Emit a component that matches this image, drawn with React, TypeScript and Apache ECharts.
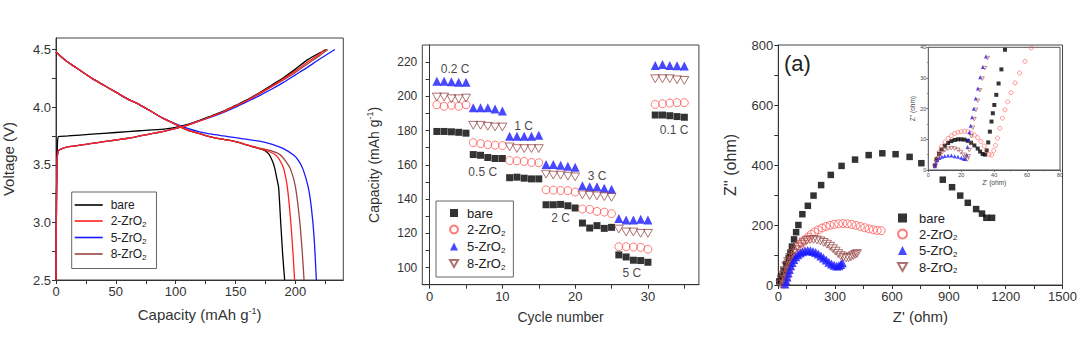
import React, { useEffect, useRef } from 'react';
import * as echarts from 'echarts';

const FONT = 'Arial, "Liberation Sans", sans-serif';
const LABELS = ['bare', '2-ZrO2', '5-ZrO2', '8-ZrO2'];
const COLORS = ['#000000', '#ff2020', '#1a1aff', '#9a4545'];
const PALE = ['#000000', '#ff5a5a', '#1a1aff', '#9a4d4d'];

// ---------- Panel A: charge / discharge curves (capacity mAh/g, voltage V)
const chargeBare = [[0, 2.5], [0.4, 3.2], [1, 3.6], [2, 3.745], [10, 3.75], [30, 3.765], [50, 3.78], [70, 3.795], [90, 3.81], [100, 3.825], [110, 3.85], [120, 3.885], [130, 3.925], [140, 3.965], [150, 4.015], [160, 4.065], [170, 4.125], [180, 4.19], [190, 4.255], [200, 4.33], [210, 4.41], [220, 4.47], [226, 4.5]];
const charge2 = [[0, 2.5], [0.5, 3.3], [1, 3.55], [2, 3.62], [5, 3.64], [10, 3.655], [20, 3.67], [30, 3.685], [40, 3.7], [50, 3.715], [60, 3.73], [70, 3.75], [80, 3.77], [90, 3.79], [100, 3.815], [110, 3.845], [120, 3.88], [130, 3.92], [140, 3.96], [150, 4.01], [160, 4.06], [170, 4.12], [180, 4.18], [190, 4.245], [200, 4.315], [210, 4.39], [220, 4.46], [224.5, 4.5]];
const charge5 = [[0, 2.5], [0.5, 3.3], [1, 3.55], [2, 3.62], [5, 3.64], [10, 3.655], [20, 3.67], [30, 3.685], [40, 3.7], [50, 3.715], [60, 3.73], [70, 3.75], [80, 3.77], [90, 3.79], [100, 3.815], [110, 3.845], [120, 3.88], [130, 3.915], [140, 3.955], [150, 4.0], [160, 4.05], [170, 4.1], [180, 4.155], [190, 4.215], [200, 4.28], [210, 4.345], [220, 4.415], [233, 4.5]];
const charge8 = [[0, 2.5], [0.5, 3.3], [1, 3.55], [2, 3.62], [5, 3.64], [10, 3.655], [20, 3.67], [30, 3.685], [40, 3.7], [50, 3.715], [60, 3.73], [70, 3.75], [80, 3.77], [90, 3.79], [100, 3.815], [110, 3.845], [120, 3.88], [130, 3.92], [140, 3.96], [150, 4.01], [160, 4.06], [170, 4.115], [180, 4.175], [190, 4.235], [200, 4.3], [210, 4.375], [220, 4.445], [227, 4.5]];
const dischargeBare = [[0, 4.48], [5, 4.43], [10, 4.39], [20, 4.32], [30, 4.25], [40, 4.19], [50, 4.13], [60, 4.07], [70, 4.02], [80, 3.96], [90, 3.9], [100, 3.85], [110, 3.8], [120, 3.77], [130, 3.74], [140, 3.72], [150, 3.7], [160, 3.67], [170, 3.64], [175, 3.62], [178, 3.59], [180.5, 3.54], [182.5, 3.48], [184.5, 3.38], [186, 3.3], [187.6, 3.02], [189.3, 2.73], [191, 2.5]];
const discharge2 = [[0, 4.48], [5, 4.43], [10, 4.39], [20, 4.32], [30, 4.25], [40, 4.19], [50, 4.13], [60, 4.07], [70, 4.02], [80, 3.96], [90, 3.9], [100, 3.85], [110, 3.8], [120, 3.77], [130, 3.74], [140, 3.72], [150, 3.7], [160, 3.67], [170, 3.64], [178, 3.615], [184, 3.58], [188, 3.52], [190.4, 3.46], [193.2, 3.31], [196, 3.02], [198, 2.73], [199.3, 2.5]];
const discharge5 = [[0, 4.48], [5, 4.43], [10, 4.39], [20, 4.32], [30, 4.25], [40, 4.19], [50, 4.13], [60, 4.07], [70, 4.02], [80, 3.96], [90, 3.9], [100, 3.855], [110, 3.815], [120, 3.785], [130, 3.765], [140, 3.75], [150, 3.735], [160, 3.72], [170, 3.705], [180, 3.68], [190, 3.64], [199, 3.58], [203, 3.53], [206.4, 3.46], [210.6, 3.31], [213.3, 3.13], [215.6, 2.87], [217.5, 2.5]];
const discharge8 = [[0, 4.48], [5, 4.43], [10, 4.39], [20, 4.32], [30, 4.25], [40, 4.19], [50, 4.13], [60, 4.07], [70, 4.02], [80, 3.96], [90, 3.9], [100, 3.85], [110, 3.8], [120, 3.77], [130, 3.74], [140, 3.72], [150, 3.7], [160, 3.67], [170, 3.645], [180, 3.62], [186.8, 3.59], [192, 3.53], [196, 3.46], [200, 3.31], [203.5, 3.02], [205.8, 2.73], [207.2, 2.5]];

// ---------- Panel B: rate capability
const cycles = [1, 2, 3, 4, 5, 6, 7, 8, 9, 10, 11, 12, 13, 14, 15, 16, 17, 18, 19, 20, 21, 22, 23, 24, 25, 26, 27, 28, 29, 30, 31, 32, 33, 34, 35];
const rateBare = [179.5, 179.5, 179.3, 179, 178.5, 166, 165.6, 164.3, 163.7, 163.7, 152.5, 152.8, 152.2, 151.8, 151.8, 136.7, 136.7, 136.9, 136.1, 134.8, 126, 123.1, 124.5, 122.9, 123.5, 107.4, 106.2, 104.3, 104.1, 103.1, 189.1, 189.1, 188.7, 188.2, 187.8];
const rate2 = [195.1, 194.2, 194.8, 194.2, 195.1, 173, 172.4, 171.8, 171.5, 171.3, 162.5, 162.3, 162, 161.4, 161.2, 145.4, 145.2, 145, 144.9, 144.1, 134.2, 134, 132.8, 132.4, 131.5, 112.2, 112.2, 112, 111.8, 110.7, 195.3, 195.7, 196.1, 196.3, 196.3];
const rate5 = [208.9, 208.9, 208.5, 208.2, 208.3, 193.4, 193.4, 193.4, 192.6, 191.5, 176.7, 176.7, 176.7, 176.7, 177.3, 160.2, 160.2, 159.8, 159.2, 158.6, 147.8, 147.2, 147.2, 146.4, 145.8, 128.7, 127.8, 127.8, 128.2, 127.8, 218, 218.6, 218, 217.9, 217.7];
const rate8 = [199.6, 199.6, 198.6, 198.6, 199, 183.1, 183.1, 182.5, 182.1, 182.1, 170.5, 169.5, 169.5, 169.5, 169.5, 154.6, 154, 154, 153.4, 153, 142.5, 142.1, 141.9, 141.4, 141, 122.5, 120.8, 120.8, 120, 120, 210.3, 210.3, 210.3, 209.7, 209.3];
const rateNotes = [
  { text: '0.2 C', cycle: 3.5, cap: 216.2 },
  { text: '0.5 C', cycle: 7.3, cap: 156 },
  { text: '1 C', cycle: 12.9, cap: 182.7 },
  { text: '2 C', cycle: 18, cap: 129 },
  { text: '3 C', cycle: 23, cap: 153.4 },
  { text: '5 C', cycle: 27.8, cap: 97 },
  { text: '0.1 C', cycle: 33.6, cap: 180.2 },
];

// ---------- Panel C: Nyquist plots (Z', Z'' in ohm)
const eisBare = [[5, 12], [15, 28], [28, 48], [42, 70], [55, 90], [64, 108], [72, 128], [83, 152], [94, 176], [106, 200], [127, 236], [156, 264], [186, 298], [226, 333], [277, 367], [334, 397], [405, 418], [477, 433], [549, 439], [619, 436], [693, 427], [755, 406], [868, 351], [917, 326], [960, 298], [1000, 274], [1044, 253], [1075, 238], [1098, 224], [1128, 224]];
const eis2 = [[30, 3], [36, 12], [42, 24], [48, 38], [55, 52], [62, 66], [70, 80], [79, 94], [89, 107], [100, 119], [112, 130], [126, 141], [141, 151], [157, 160], [174, 169], [192, 177], [211, 184], [231, 190], [252, 195], [273, 199], [295, 202], [318, 204], [341, 205], [364, 204], [387, 202], [410, 199], [433, 195], [456, 191], [479, 187], [501, 184], [522, 182], [543, 181]];
const eis5 = [[35, 3], [40, 14], [46, 27], [52, 40], [58, 52], [65, 64], [73, 75], [82, 85], [92, 94], [103, 101], [115, 107], [128, 111], [141, 114], [155, 115], [169, 114], [183, 112], [197, 108], [211, 103], [225, 97], [239, 90], [253, 83], [267, 76], [281, 70], [295, 66], [308, 63], [320, 64], [330, 68], [338, 74]];
const eis8 = [[12, 3], [18, 18], [25, 33], [33, 48], [42, 63], [52, 78], [63, 92], [75, 105], [88, 117], [102, 127], [117, 136], [133, 143], [150, 148], [168, 151], [186, 152], [204, 150], [222, 147], [240, 142], [257, 136], [273, 129], [288, 121], [302, 113], [316, 105], [330, 98], [344, 93], [358, 90], [371, 91], [383, 94], [395, 98], [406, 102], [415, 105]];
// inset (zoom of high-frequency region)
const insetBare = [[4, 1.5], [5, 3.5], [6.5, 5.3], [8, 6.7], [10, 7.9], [12, 8.8], [14, 9.4], [16, 9.8], [18, 10], [20, 10], [22, 9.9], [24, 9.5], [26, 8.9], [28, 8], [30, 7], [31.5, 6], [33, 5.2], [34.5, 5], [35.5, 6.4], [36.4, 9], [37.4, 12.5], [38.4, 15.8], [39.2, 18.5], [40.1, 21.2], [41.3, 24.5], [42.7, 28.2], [44.4, 32.8], [46.6, 39.2]];
const inset2 = [[4, 1.5], [5, 3.5], [6.5, 5.8], [8, 7.6], [10, 9.1], [12, 10.3], [14, 11.2], [16, 11.9], [18, 12.3], [20, 12.5], [22, 12.6], [24, 12.5], [26, 12.1], [28, 11.4], [30, 10.5], [32, 9.3], [34, 7.8], [35.5, 6.3], [37, 5], [38.5, 4.9], [39.7, 6.3], [40.8, 8], [42, 10.4], [43.4, 13.6], [45, 16.9], [46.6, 19.6], [48.2, 22.2], [50.2, 25.2], [52.7, 28.4], [55.5, 31.6], [58.7, 35.4], [62.5, 39.8]];
const inset5 = [[4, 1.2], [4.6, 2.3], [5.5, 3.2], [6.8, 3.9], [8.3, 4.3], [10, 4.6], [12, 4.7], [14, 4.7], [16, 4.5], [18, 4.3], [20, 4], [21.5, 3.7], [22.5, 3.6], [23.3, 5], [23.8, 7.5], [24.3, 9.8], [25, 12.3], [25.7, 14.4], [26.6, 17.2], [27.6, 20], [28.8, 23.3], [30.1, 26.6], [31.5, 30.2], [33.1, 33.6], [35, 37]];
const inset8 = [[4, 1.2], [4.8, 2.5], [5.8, 3.8], [7, 4.9], [8.5, 5.8], [10, 6.4], [12, 6.9], [14, 7.1], [16, 7], [18, 6.6], [19.8, 5.9], [21.3, 5], [22.6, 4.1], [23.7, 3.4], [24.4, 4.5], [24.9, 6.5], [25.5, 8.6], [26.2, 11], [27, 13.8], [27.9, 16.6], [28.9, 19.6], [30, 22.6], [31.3, 26], [32.8, 29.8], [34.3, 33.2], [36, 36.5]];

// tick values
const aXLabels = [0, 50, 100, 150, 200];
const aXTicks = [0, 25, 50, 75, 100, 125, 150, 175, 200, 225];
const aYLabels = [2.5, 3.0, 3.5, 4.0, 4.5];
const aYTicks = [2.5, 2.75, 3.0, 3.25, 3.5, 3.75, 4.0, 4.25, 4.5];
const bXLabels = [0, 10, 20, 30];
const bXTicks = [0, 5, 10, 15, 20, 25, 30, 35];
const bYLabels = [100, 120, 140, 160, 180, 200, 220];
const bYTicks = [100, 110, 120, 130, 140, 150, 160, 170, 180, 190, 200, 210, 220];
const cXLabels = [0, 300, 600, 900, 1200, 1500];
const cXTicks = [0, 150, 300, 450, 600, 750, 900, 1050, 1200, 1350, 1500];
const cYLabels = [0, 200, 400, 600, 800];
const cYTicks = [0, 100, 200, 300, 400, 500, 600, 700, 800];

const DOWN_TRI = 'path://M0,0L10,0L5,8.66Z';

const fmtName = (n: string) => {
  const s = n.split(':')[1] || n;
  return s.replace('ZrO2', 'ZrO{s|2}');
};

function axis(extra: any, fontSize = 13, color = '#333') {
  const { labels, ticks, labelFmt, ...rest } = extra;
  return {
    type: 'value',
    axisLine: { show: true, lineStyle: { color, width: 1 } },
    axisTick: { show: true, length: 4, lineStyle: { color, width: 1 }, customValues: ticks },
    axisLabel: {
      show: true,
      color: '#333',
      fontSize,
      fontFamily: FONT,
      margin: 5,
      customValues: labels,
      formatter: labelFmt || ((v: number) => String(v)),
    },
    splitLine: { show: false },
    nameTextStyle: { fontFamily: FONT, color: '#333' },
    ...rest,
  };
}

export default function App() {
  const ref = useRef<HTMLDivElement>(null);
  useEffect(() => {
    if (!ref.current) return;
    const chart = echarts.init(ref.current, undefined, { renderer: 'svg' });

    const supRich = { p: { fontSize: 9, padding: [0, 0, 8, 0], fontFamily: FONT, color: '#333' } };
    const subRich = { s: { fontSize: 8, padding: [7, 0, 0, 0], fontFamily: FONT, color: '#222' } };

    const series: any[] = [];
    const chargeSets = [chargeBare, charge2, charge5, charge8];
    const dischargeSets = [dischargeBare, discharge2, discharge5, discharge8];
    [0, 2, 3, 1].forEach((i) => {
      [chargeSets[i], dischargeSets[i]].forEach((d) => {
        series.push({
          type: 'line',
          name: 'A:' + LABELS[i],
          xAxisIndex: 0,
          yAxisIndex: 0,
          data: d,
          symbol: 'none',
          smooth: 0.2,
          lineStyle: { color: COLORS[i], width: 1.3 },
          itemStyle: { color: COLORS[i] },
          z: 3,
        });
      });
    });

    const rateSets = [rateBare, rate2, rate5, rate8];
    const rateSym = [
      { symbol: 'rect', size: 7, filled: true },
      { symbol: 'circle', size: 8, filled: false },
      { symbol: 'triangle', size: 9, filled: true },
      { symbol: DOWN_TRI, size: 9, filled: false },
    ];
    rateSets.forEach((vals, i) => {
      const sy = rateSym[i];
      series.push({
        type: 'scatter',
        name: 'B:' + LABELS[i],
        xAxisIndex: 1,
        yAxisIndex: 1,
        data: cycles.map((c, k) => [c, vals[k]]),
        symbol: sy.symbol,
        symbolSize: sy.size,
        symbolKeepAspect: true,
        itemStyle: sy.filled
          ? { color: PALE[i] }
          : { color: 'rgba(255,255,255,0)', borderColor: PALE[i], borderWidth: 1 },
      });
    });
    series.push({
      type: 'scatter',
      name: 'notes',
      xAxisIndex: 1,
      yAxisIndex: 1,
      silent: true,
      symbolSize: 0,
      data: rateNotes.map((n) => ({ value: [n.cycle, n.cap], name: n.text })),
      label: { show: true, position: 'inside', formatter: '{b}', color: '#111', fontSize: 12, fontFamily: FONT },
    });

    const eisSets = [eisBare, eis2, eis5, eis8];
    const insetSets = [insetBare, inset2, inset5, inset8];
    const eisSym = [
      { symbol: 'rect', size: 6.5, filled: true },
      { symbol: 'circle', size: 8, filled: false },
      { symbol: 'triangle', size: 9, filled: true },
      { symbol: DOWN_TRI, size: 9, filled: false },
    ];
    eisSets.forEach((d, i) => {
      const sy = eisSym[i];
      series.push({
        type: 'scatter',
        name: 'C:' + LABELS[i],
        xAxisIndex: 2,
        yAxisIndex: 2,
        data: d,
        symbol: sy.symbol,
        symbolSize: sy.size,
        symbolKeepAspect: true,
        itemStyle: sy.filled
          ? { color: PALE[i] }
          : { color: 'rgba(255,255,255,0)', borderColor: PALE[i], borderWidth: 1 },
      });
    });
    insetSets.forEach((d, i) => {
      const sy = eisSym[i];
      series.push({
        type: 'scatter',
        name: 'D:' + LABELS[i],
        xAxisIndex: 3,
        yAxisIndex: 3,
        data: d,
        symbol: sy.symbol,
        symbolSize: 4,
        symbolKeepAspect: true,
        itemStyle: sy.filled
          ? { color: PALE[i] }
          : { color: 'rgba(255,255,255,0)', borderColor: PALE[i], borderWidth: 0.8 },
        z: 5,
      });
    });

    const gridBase = { show: true, borderColor: '#444', borderWidth: 1, backgroundColor: 'transparent', containLabel: false };
    const legendText = (size: number) => ({ fontSize: size, fontFamily: FONT, color: '#222', lineHeight: 14, rich: subRich });

    const option: any = {
      animation: false,
      backgroundColor: '#fff',
      textStyle: { fontFamily: FONT },
      grid: [
        { ...gridBase, left: 55.7, top: 38, width: 287.6, height: 242 },
        { ...gridBase, left: 422.3, top: 45, width: 276.6, height: 239.7 },
        { ...gridBase, left: 778.3, top: 45, width: 284.7, height: 240 },
        { ...gridBase, left: 928.3, top: 47.3, width: 131.7, height: 122.7, backgroundColor: '#fff', borderColor: '#555', z: 4 },
      ],
      xAxis: [
        axis({ gridIndex: 0, min: 0, max: 240, labels: aXLabels, ticks: aXTicks, name: 'Capacity (mAh g{p|-1})', nameLocation: 'middle', nameGap: 26, nameTextStyle: { fontSize: 15, fontFamily: FONT, color: '#333', rich: supRich } }),
        axis({ gridIndex: 1, min: -1, max: 37, labels: bXLabels, ticks: bXTicks, name: 'Cycle number', nameLocation: 'middle', nameGap: 25, nameTextStyle: { fontSize: 14, fontFamily: FONT, color: '#333' } }),
        axis({ gridIndex: 2, min: 0, max: 1500, labels: cXLabels, ticks: cXTicks, name: "Z' (ohm)", nameLocation: 'middle', nameGap: 24, nameTextStyle: { fontSize: 15, fontFamily: FONT, color: '#333' } }),
        {
          ...axis({ gridIndex: 3, min: 0, max: 80, interval: 20, name: "Z' (ohm)", nameLocation: 'middle', nameGap: 9, nameTextStyle: { fontSize: 6.5, fontFamily: FONT, color: '#444' } }, 6, '#555'),
          axisTick: { show: true, length: 2, lineStyle: { color: '#555', width: 0.8 } },
          axisLabel: { show: true, fontSize: 5.5, color: '#444', margin: 2, fontFamily: FONT },
          minorTick: { show: true, splitNumber: 2, length: 1.5, lineStyle: { color: '#555', width: 0.6 } },
        },
      ],
      yAxis: [
        axis({ gridIndex: 0, min: 2.5, max: 4.6, labels: aYLabels, ticks: aYTicks, labelFmt: (v: number) => v.toFixed(1), name: 'Voltage (V)', nameLocation: 'middle', nameGap: 40, nameTextStyle: { fontSize: 15, fontFamily: FONT, color: '#333' } }),
        axis({ gridIndex: 1, min: 90, max: 230, labels: bYLabels, ticks: bYTicks, name: 'Capacity (mAh g{p|-1})', nameLocation: 'middle', nameGap: 40, nameTextStyle: { fontSize: 14, fontFamily: FONT, color: '#333', rich: supRich } }, 12),
        axis({ gridIndex: 2, min: 0, max: 800, labels: cYLabels, ticks: cYTicks, name: "Z'' (ohm)", nameLocation: 'middle', nameGap: 40, nameTextStyle: { fontSize: 16, fontFamily: FONT, color: '#333' } }),
        {
          ...axis({ gridIndex: 3, min: 0, max: 40, interval: 10, name: "Z'' (ohm)", nameLocation: 'middle', nameGap: 11, nameTextStyle: { fontSize: 6.5, fontFamily: FONT, color: '#444' } }, 6, '#555'),
          axisTick: { show: true, length: 2, lineStyle: { color: '#555', width: 0.8 } },
          axisLabel: { show: true, fontSize: 5.5, color: '#444', margin: 2, fontFamily: FONT },
          minorTick: { show: true, splitNumber: 2, length: 1.5, lineStyle: { color: '#555', width: 0.6 } },
        },
      ],
      legend: [
        {
          data: LABELS.map((l) => ({ name: 'A:' + l, icon: 'rect' })),
          orient: 'vertical',
          left: 71.7,
          top: 192,
          padding: [6, 10, 7, 3],
          itemWidth: 28,
          itemHeight: 1.6,
          itemGap: 2,
          borderColor: '#666',
          borderWidth: 1,
          backgroundColor: '#fff',
          selectedMode: false,
          formatter: fmtName,
          textStyle: { ...legendText(12), padding: [0, 0, 0, 3] },
        },
        {
          data: LABELS.map((l) => 'B:' + l),
          orient: 'vertical',
          left: 436,
          top: 201,
          padding: [5, 8, 6, 13],
          itemWidth: 8,
          itemHeight: 8,
          itemGap: 2.5,
          borderColor: '#666',
          borderWidth: 1,
          backgroundColor: '#fff',
          selectedMode: false,
          formatter: fmtName,
          textStyle: { ...legendText(13), padding: [0, 0, 0, 4] },
        },
        {
          data: LABELS.map((l) => 'C:' + l),
          orient: 'vertical',
          left: 897,
          top: 211,
          padding: 0,
          itemWidth: 9,
          itemHeight: 9,
          itemGap: 2,
          selectedMode: false,
          formatter: fmtName,
          textStyle: { ...legendText(13), padding: [0, 0, 0, 7] },
        },
      ],
      graphic: [
        { type: 'text', left: 784, top: 52, style: { text: '(a)', fontSize: 22, fontFamily: FONT, fill: '#222' }, z: 10 },
      ],
      series,
    };
    chart.setOption(option);
    return () => chart.dispose();
  }, []);
  return <div ref={ref} style={{ position: 'fixed', left: 0, top: 0, width: 1080, height: 360, background: '#fff' }} />;
}
